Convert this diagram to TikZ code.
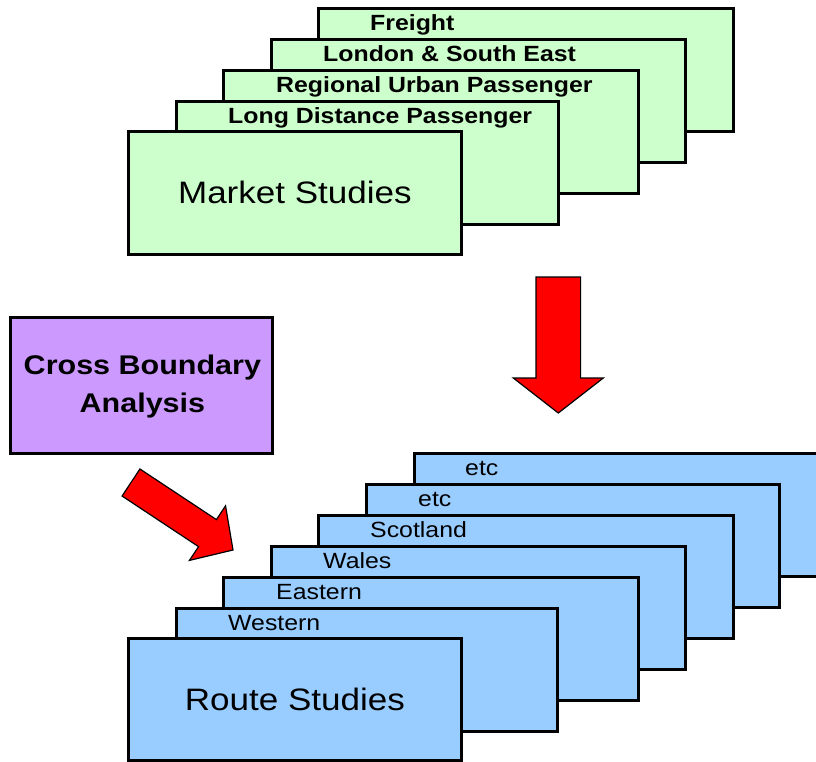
\documentclass[tikz,border=0pt]{standalone}
\usepackage{fontspec}
\setmainfont{Liberation Sans}[FakeStretch=1.13]
\usetikzlibrary{calc}

\definecolor{marketgreen}{HTML}{CCFFCC}
\definecolor{routeblue}{HTML}{99CCFF}
\definecolor{crosspurple}{HTML}{CC99FF}
\definecolor{arrowred}{HTML}{FF0000}

\tikzset{
  card/.style={draw=black, line width=2.8pt, inner sep=0pt, anchor=north west,
               minimum height=123pt},
  greencard/.style={card, fill=marketgreen},
  bluecard/.style={card, fill=routeblue},
  tablabel/.style={anchor=base west, inner sep=0pt, font=\fontsize{22}{26}\selectfont},
  boldtab/.style={tablabel, font=\fontsize{22}{26}\selectfont\bfseries},
  title/.style={font=\fontsize{31}{37}\selectfont},
  blockarrow/.style={draw=black, fill=arrowred, line width=1.2pt, line join=miter},
}

% block arrow: tail centre, tip, base of head, shaft half width, head half width
\newcommand\drawblockarrow[5]{%
  \draw[blockarrow]
    ($(#1)!#4!90:(#2)$) -- ($(#3)!#4!90:(#2)$) -- ($(#3)!#5!90:(#2)$) --
    (#2) --
    ($(#3)!#5!-90:(#2)$) -- ($(#3)!#4!-90:(#2)$) -- ($(#1)!#4!-90:(#2)$) -- cycle;}

\begin{document}
\begin{tikzpicture}[x=1pt, y=-1pt]
  \path[use as bounding box, clip] (0,0) rectangle (816,761);

  % market studies stack, back to front
  \node[greencard, minimum width=415pt] (freight)  at (317,7)   {};
  \node[boldtab] (freightlab) at ($(freight.north west)+(53,23.5)$) {Freight};
  \node[greencard, minimum width=414pt] (london)   at (270,38)  {};
  \node[boldtab] (londonlab) at ($(london.north west)+(53,23.5)$) {London \& South East};
  \node[greencard, minimum width=415pt] (regional) at (222,69)  {};
  \node[boldtab] (regionallab) at ($(regional.north west)+(54,23.5)$) {Regional Urban Passenger};
  \node[greencard, minimum width=382pt] (longdist) at (175,100) {};
  \node[boldtab] (longdistlab) at ($(longdist.north west)+(53,23.5)$) {Long Distance Passenger};
  \node[greencard, minimum width=333pt] (market)   at (127,130) {};
  \node[title] (marketlab) at (market.center) {Market Studies};

  % route studies stack, back to front
  \node[bluecard, minimum width=440pt] (etcb)     at (413,452) {};
  \node[tablabel] (etcblab) at ($(etcb.north west)+(52,23)$) {etc};
  \node[bluecard, minimum width=413pt] (etca)     at (365,483) {};
  \node[tablabel] (etcalab) at ($(etca.north west)+(53,23)$) {etc};
  \node[bluecard, minimum width=415pt] (scotland) at (317,514) {};
  \node[tablabel] (scotlandlab) at ($(scotland.north west)+(53,23)$) {Scotland};
  \node[bluecard, minimum width=414pt] (wales)    at (270,545) {};
  \node[tablabel] (waleslab) at ($(wales.north west)+(53,23)$) {Wales};
  \node[bluecard, minimum width=415pt] (eastern)  at (222,576) {};
  \node[tablabel] (easternlab) at ($(eastern.north west)+(54,23)$) {Eastern};
  \node[bluecard, minimum width=381pt] (western)  at (175,607) {};
  \node[tablabel] (westernlab) at ($(western.north west)+(53,23.5)$) {Western};
  \node[bluecard, minimum width=333pt, minimum height=122pt] (route) at (127,637) {};
  \node[title] (routelab) at (route.center) {Route Studies};

  % cross boundary analysis
  \node[card, fill=crosspurple, minimum width=262pt, minimum height=136pt] (cross) at (9,316) {};
  \node[align=center, font=\fontsize{27}{37.5}\selectfont\bfseries] (crosslab)
    at ($(cross.center)+(1,1)$) {Cross Boundary\\Analysis};

  % flow arrows
  \coordinate (downtail) at (558.3,277);
  \coordinate (downtip)  at (558.3,413);
  \coordinate (downbase) at ($(downtip)!35pt!(downtail)$);
  \drawblockarrow{downtail}{downtip}{downbase}{22.3pt}{45pt}

  \coordinate (diagtail) at (131,482.5);
  \coordinate (diagtip)  at (233,550);
  \coordinate (diagbase) at ($(diagtip)!30.6pt!(diagtail)$);
  \drawblockarrow{diagtail}{diagtip}{diagbase}{16.2pt}{32.7pt}
\end{tikzpicture}
\end{document}
